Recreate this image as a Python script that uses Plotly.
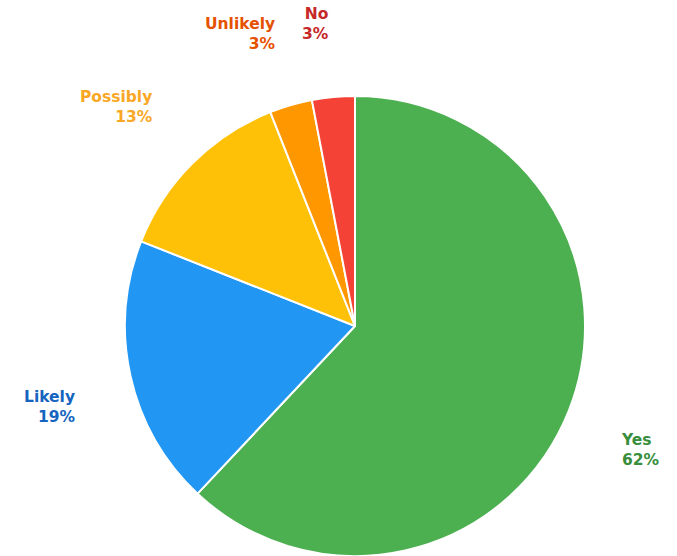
import math
import plotly.graph_objects as go

labels = ["Yes", "Likely", "Possibly", "Unlikely", "No"]
values = [62, 19, 13, 3, 3]
slice_colors = ["#4CAF50", "#2196F3", "#FFC107", "#FF9800", "#F44336"]
label_colors = ["#388E3C", "#1565C0", "#F9A825", "#E65100", "#C62828"]

W, H = 677, 556
cx, cy, r = 355, 327, 230  # pixel center/radius of pie

dom_x = [(cx - 232) / W, (cx + 232) / W]
dom_y = [0, (2 * r) / H]

fig = go.Figure(go.Pie(
    labels=labels, values=values, sort=False, direction="clockwise", rotation=0,
    marker=dict(colors=slice_colors, line=dict(color="white", width=2)),
    textinfo="none", hoverinfo="label+percent", showlegend=False,
    domain=dict(x=dom_x, y=dom_y),
))

total = sum(values)
cum = 0
annotations = []
for lab, v, col in zip(labels, values, label_colors):
    mid = (cum + v / 2) / total * 2 * math.pi
    cum += v
    dx = math.sin(mid)
    dy = math.cos(mid)
    px = cx + 1.25 * r * dx
    py = cy - 1.25 * r * dy
    pct = round(v / total * 100)
    annotations.append(dict(
        x=px / W, y=1 - py / H, xref="paper", yref="paper",
        text=f"{lab}<br>{pct}%", showarrow=False,
        xanchor="left" if dx > 0 else "right",
        yanchor="bottom" if dy > 0 else "top",
        align="left" if dx > 0 else "right",
        xshift=-3 if dx > 0 else 3,
        yshift=-4 if dy > 0 else 4,
        font=dict(family="DejaVu Sans", size=15.5, color=col, weight="bold"),
    ))

fig.update_layout(
    width=W, height=H, margin=dict(l=0, r=0, t=0, b=0),
    paper_bgcolor="white", plot_bgcolor="white",
    annotations=annotations,
)
fig.write_html("out.html")
